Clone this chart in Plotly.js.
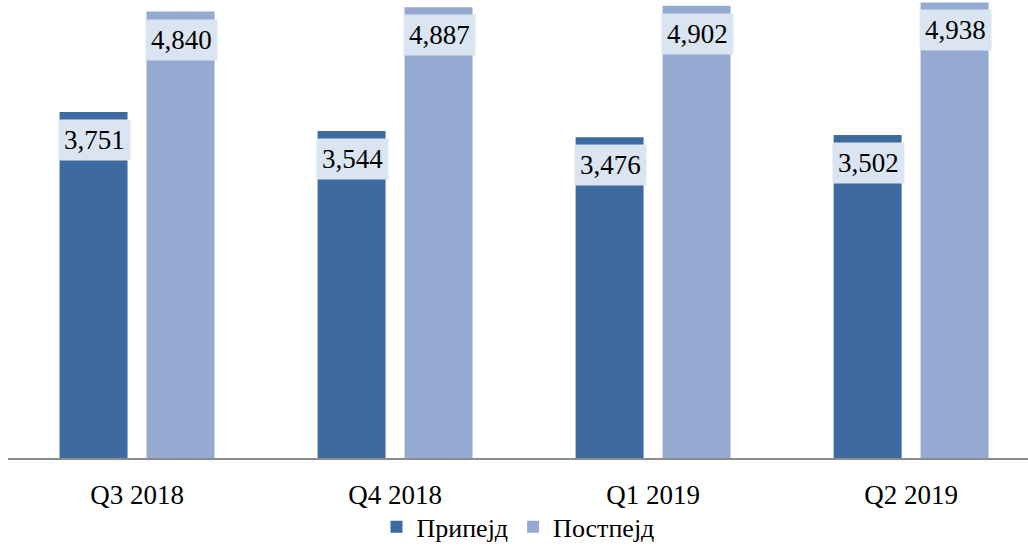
<!DOCTYPE html>
<html>
<head>
<meta charset="utf-8">
<script src="https://cdn.plot.ly/plotly-3.0.1.min.js"></script>
<style>html,body{margin:0;padding:0;background:#fff;}#chart{width:1028px;height:546px;}</style>
</head>
<body>
<div id="chart"></div>
<script>
const categories = ["Q3 2018", "Q4 2018", "Q1 2019", "Q2 2019"];
const seriesNames = ["Припејд", "Постпејд"];
const prepaid = [3751, 3544, 3476, 3502];
const postpaid = [4840, 4887, 4902, 4938];

const FONT = "Liberation Serif, Times New Roman, serif";
const colors = ["#3e6aa2", "#95aad1"];
const fmt = v => v.toLocaleString("en-US");

const traces = [prepaid, postpaid].map((vals, i) => ({
  type: "bar",
  name: seriesNames[i],
  x: categories,
  y: vals,
  marker: {color: colors[i]},
  hoverinfo: "skip"
}));

const annotations = [];
[prepaid, postpaid].forEach((vals, i) => {
  vals.forEach((v, j) => {
    annotations.push({
      x: categories[j], y: v, xref: "x", yref: "y",
      xshift: i === 0 ? -43 : 44, yshift: -7,
      yanchor: "top", xanchor: "center",
      text: fmt(v), showarrow: false,
      bgcolor: "#dbe5f1", borderpad: 5,
      font: {family: FONT, size: 27, color: "#000"}
    });
  });
});

const layout = {
  width: 1028, height: 546,
  margin: {l: 8, r: 0, t: 0, b: 88, autoexpand: false},
  paper_bgcolor: "#fff", plot_bgcolor: "#fff",
  barmode: "group", bargap: 0.326, bargroupgap: 0.218,
  font: {family: FONT, color: "#000"},
  xaxis: {
    type: "category", range: [-0.5, 3.453], automargin: false,
    showline: true, linecolor: "#8c8c8c", linewidth: 2,
    ticks: "", showgrid: false, zeroline: false,
    tickfont: {family: FONT, size: 27, color: "#000"},
    ticklabelstandoff: 12
  },
  yaxis: {
    range: [0, 4965], visible: false, showgrid: false, zeroline: false
  },
  showlegend: true,
  legend: {
    orientation: "h", x: 0.5, xanchor: "center",
    yref: "container", y: 0.035, yanchor: "middle",
    bgcolor: "rgba(0,0,0,0)",
    font: {family: FONT, size: 26, color: "#000"},
    itemwidth: 30, tracegroupgap: 0
  },
  annotations: annotations
};

Plotly.newPlot("chart", traces, layout, {staticPlot: true, displayModeBar: false});
</script>
</body>
</html>
